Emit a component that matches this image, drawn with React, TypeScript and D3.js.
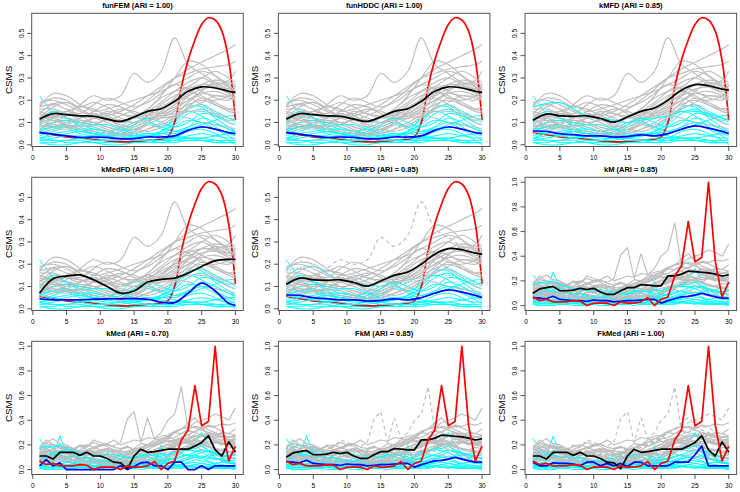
import React from 'react';
import * as d3 from 'd3';

// ---------- data ----------
const DAYS = [1,2,3,4,5,6,7,8,9,10,11,12,13,14,15,16,17,18,19,20,21,22,23,24,25,26,27,28,29,30];
const KNOTS = [1,3,5,7,9,11,13,15,17,19,21,23,25,27,29,30];
const X_TICKS = [0,5,10,15,20,25,30];
const Y_TICKS_SMOOTH = [0,0.1,0.2,0.3,0.4,0.5];
const Y_TICKS_RAW = [0,0.2,0.4,0.6,0.8,1.0];

// smoothed curves (values at KNOTS)
const SMOOTH_GRAY: number[][] = [
  [0.07,0.10,0.13,0.18,0.22,0.20,0.22,0.32,0.28,0.33,0.48,0.36,0.32,0.28,0.25,0.24],
  [0.15,0.13,0.12,0.11,0.10,0.11,0.13,0.16,0.20,0.25,0.30,0.34,0.37,0.40,0.43,0.45],
  [0.10,0.12,0.14,0.13,0.12,0.13,0.15,0.18,0.22,0.26,0.30,0.32,0.34,0.35,0.36,0.375],
  [0.06,0.08,0.10,0.12,0.14,0.12,0.10,0.12,0.16,0.22,0.30,0.375,0.36,0.31,0.26,0.23],
  [0.12,0.15,0.14,0.13,0.12,0.10,0.08,0.10,0.13,0.16,0.20,0.25,0.27,0.27,0.29,0.33],
  [0.18,0.21,0.20,0.17,0.19,0.17,0.14,0.13,0.15,0.19,0.24,0.28,0.30,0.27,0.24,0.24],
  [0.17,0.23,0.22,0.18,0.15,0.16,0.18,0.20,0.22,0.24,0.27,0.30,0.33,0.31,0.27,0.26],
  [0.14,0.18,0.16,0.14,0.18,0.21,0.19,0.17,0.19,0.23,0.27,0.25,0.21,0.20,0.22,0.27],
  [0.08,0.10,0.11,0.10,0.09,0.07,0.05,0.06,0.09,0.12,0.15,0.18,0.20,0.18,0.16,0.17],
  [0.06,0.12,0.15,0.13,0.10,0.08,0.06,0.05,0.07,0.10,0.13,0.12,0.10,0.09,0.08,0.07],
  [0.10,0.14,0.12,0.10,0.12,0.15,0.14,0.12,0.14,0.17,0.20,0.22,0.25,0.26,0.25,0.25],
  [0.13,0.11,0.09,0.08,0.09,0.11,0.09,0.08,0.11,0.14,0.18,0.23,0.27,0.29,0.28,0.27],
  [0.05,0.07,0.09,0.11,0.10,0.08,0.07,0.09,0.12,0.13,0.14,0.16,0.19,0.22,0.21,0.20],
  [0.16,0.16,0.14,0.12,0.15,0.18,0.17,0.14,0.12,0.13,0.16,0.22,0.27,0.26,0.23,0.21],
  [0.07,0.09,0.08,0.07,0.06,0.05,0.04,0.06,0.10,0.14,0.17,0.20,0.24,0.28,0.26,0.25],
  [0.12,0.17,0.19,0.16,0.13,0.11,0.10,0.13,0.15,0.14,0.16,0.20,0.23,0.22,0.22,0.23],
  [0.09,0.08,0.07,0.09,0.12,0.14,0.12,0.10,0.13,0.18,0.22,0.24,0.22,0.18,0.15,0.14],
  [0.11,0.13,0.15,0.17,0.16,0.13,0.11,0.12,0.16,0.21,0.24,0.26,0.30,0.33,0.30,0.28],
  [0.14,0.12,0.10,0.12,0.14,0.12,0.08,0.07,0.10,0.15,0.19,0.21,0.18,0.14,0.10,0.09],
  [0.19,0.20,0.18,0.15,0.13,0.14,0.16,0.15,0.13,0.15,0.21,0.26,0.24,0.21,0.20,0.22],
  [0.17,0.185,0.19,0.16,0.13,0.12,0.11,0.10,0.11,0.12,0.13,0.15,0.15,0.14,0.12,0.11],
  [0.09,0.11,0.09,0.07,0.06,0.05,0.04,0.05,0.07,0.09,0.12,0.17,0.21,0.19,0.16,0.15],
  [0.11,0.09,0.08,0.09,0.08,0.06,0.05,0.07,0.06,0.08,0.13,0.19,0.23,0.24,0.22,0.20],
];
const SMOOTH_CYAN: number[][] = [
  [0.22,0.14,0.08,0.05,0.04,0.03,0.03,0.04,0.05,0.04,0.03,0.03,0.02,0.01,0.01,0.01],
  [0.05,0.07,0.08,0.06,0.05,0.06,0.07,0.06,0.05,0.06,0.10,0.16,0.18,0.15,0.12,0.10],
  [0.10,0.14,0.12,0.08,0.06,0.05,0.05,0.07,0.09,0.08,0.11,0.17,0.17,0.12,0.08,0.06],
  [0.03,0.04,0.05,0.06,0.05,0.04,0.05,0.08,0.10,0.08,0.06,0.07,0.09,0.11,0.13,0.13],
  [0.06,0.08,0.09,0.07,0.05,0.05,0.08,0.12,0.11,0.07,0.05,0.08,0.12,0.10,0.07,0.06],
  [0.02,0.02,0.01,0.01,0.02,0.02,0.01,0.01,0.02,0.02,0.02,0.03,0.03,0.02,0.01,0.01],
  [0.01,0.01,0.02,0.02,0.01,0.01,0.01,0.02,0.02,0.01,0.02,0.02,0.02,0.02,0.02,0.02],
  [0.04,0.06,0.08,0.09,0.08,0.06,0.04,0.03,0.04,0.05,0.06,0.08,0.10,0.09,0.07,0.05],
  [0.08,0.10,0.11,0.09,0.07,0.06,0.05,0.04,0.04,0.06,0.09,0.14,0.16,0.13,0.10,0.09],
  [0.02,0.03,0.04,0.04,0.03,0.02,0.02,0.03,0.04,0.05,0.04,0.03,0.03,0.04,0.05,0.05],
  [0.03,0.05,0.06,0.07,0.07,0.06,0.05,0.04,0.04,0.05,0.08,0.11,0.10,0.07,0.04,0.02],
  [0.06,0.05,0.04,0.03,0.02,0.02,0.03,0.03,0.02,0.02,0.03,0.06,0.07,0.05,0.02,0.00],
  [0.01,0.00,0.00,0.01,0.01,0.00,0.00,0.01,0.01,0.01,0.01,0.02,0.02,0.01,0.01,0.01],
  [0.07,0.08,0.09,0.07,0.05,0.04,0.06,0.09,0.12,0.10,0.08,0.10,0.14,0.13,0.11,0.12],
  [0.09,0.15,0.12,0.10,0.09,0.09,0.07,0.05,0.04,0.06,0.12,0.15,0.13,0.08,0.05,0.04],
  [0.03,0.02,0.02,0.03,0.04,0.04,0.03,0.02,0.02,0.03,0.03,0.04,0.05,0.04,0.03,0.03],
];
const SMOOTH_RED = [0.055,0.05,0.045,0.04,0.035,0.032,0.03,0.028,0.025,0.022,0.018,0.015,0.013,0.013,0.015,0.017,0.02,0.022,0.025,0.036,0.10,0.26,0.38,0.47,0.54,0.57,0.56,0.51,0.38,0.11];

const FUNFEM_BLACK = [0.115,0.14,0.135,0.13,0.128,0.115,0.105,0.125,0.15,0.162,0.195,0.24,0.26,0.255,0.24,0.235];
const FUNFEM_BLUE = [0.055,0.048,0.04,0.033,0.035,0.033,0.027,0.028,0.035,0.035,0.04,0.065,0.08,0.07,0.055,0.05];
const KMFD_BLACK = [0.11,0.138,0.13,0.128,0.13,0.118,0.102,0.125,0.15,0.165,0.2,0.245,0.27,0.265,0.25,0.245];
const KMFD_BLUE = [0.062,0.06,0.05,0.045,0.04,0.04,0.035,0.037,0.045,0.04,0.05,0.07,0.085,0.075,0.06,0.05];
const KMEDFD_BLACK = [0.07,0.135,0.147,0.152,0.13,0.1,0.07,0.08,0.12,0.132,0.138,0.16,0.19,0.215,0.222,0.222];
const KMEDFD_BLUE = [0.045,0.04,0.04,0.04,0.043,0.045,0.045,0.046,0.043,0.03,0.028,0.07,0.115,0.08,0.025,0.015];

// raw curves (values at DAYS)
const RAW_GRAY: number[][] = [
  [0.07,0.10,0.09,0.12,0.14,0.16,0.20,0.18,0.24,0.22,0.20,0.19,0.22,0.41,0.47,0.22,0.42,0.25,0.30,0.40,0.45,0.67,0.32,0.30,0.34,0.28,0.26,0.30,0.22,0.25],
  [0.15,0.12,0.14,0.10,0.12,0.11,0.10,0.09,0.11,0.10,0.12,0.10,0.14,0.15,0.17,0.16,0.20,0.22,0.24,0.26,0.30,0.33,0.34,0.38,0.40,0.42,0.45,0.43,0.40,0.50],
  [0.10,0.13,0.12,0.15,0.14,0.12,0.13,0.11,0.14,0.13,0.15,0.14,0.16,0.18,0.17,0.21,0.20,0.24,0.25,0.27,0.30,0.29,0.33,0.35,0.34,0.36,0.35,0.37,0.36,0.38],
  [0.06,0.09,0.08,0.11,0.10,0.13,0.12,0.15,0.14,0.12,0.11,0.10,0.09,0.12,0.13,0.15,0.18,0.21,0.23,0.25,0.30,0.33,0.38,0.42,0.36,0.32,0.30,0.27,0.24,0.22],
  [0.12,0.16,0.14,0.15,0.13,0.12,0.14,0.11,0.13,0.10,0.09,0.08,0.07,0.09,0.11,0.10,0.14,0.13,0.17,0.18,0.22,0.24,0.26,0.28,0.27,0.26,0.28,0.30,0.29,0.33],
  [0.18,0.24,0.20,0.19,0.17,0.16,0.19,0.20,0.18,0.16,0.14,0.15,0.13,0.12,0.16,0.18,0.20,0.19,0.22,0.25,0.26,0.29,0.31,0.30,0.28,0.27,0.25,0.24,0.23,0.24],
  [0.17,0.22,0.25,0.21,0.20,0.17,0.15,0.16,0.17,0.19,0.21,0.24,0.20,0.22,0.24,0.23,0.26,0.25,0.27,0.28,0.31,0.33,0.35,0.34,0.32,0.30,0.28,0.27,0.26,0.27],
  [0.14,0.19,0.17,0.18,0.15,0.13,0.16,0.19,0.22,0.20,0.21,0.18,0.17,0.19,0.16,0.18,0.20,0.22,0.25,0.27,0.24,0.26,0.22,0.20,0.21,0.19,0.22,0.24,0.26,0.28],
  [0.08,0.11,0.10,0.12,0.09,0.10,0.08,0.09,0.07,0.06,0.05,0.06,0.04,0.07,0.06,0.08,0.10,0.09,0.13,0.12,0.16,0.15,0.18,0.20,0.22,0.19,0.17,0.16,0.18,0.17],
  [0.06,0.10,0.13,0.15,0.16,0.13,0.12,0.10,0.09,0.08,0.07,0.06,0.05,0.06,0.05,0.07,0.08,0.09,0.11,0.12,0.14,0.13,0.11,0.12,0.10,0.09,0.08,0.09,0.07,0.08],
  [0.10,0.15,0.13,0.12,0.10,0.11,0.09,0.12,0.14,0.16,0.17,0.15,0.13,0.12,0.14,0.15,0.13,0.16,0.18,0.20,0.21,0.23,0.22,0.25,0.27,0.26,0.25,0.27,0.24,0.25],
  [0.13,0.11,0.12,0.09,0.08,0.10,0.07,0.09,0.10,0.12,0.11,0.09,0.08,0.10,0.07,0.09,0.12,0.11,0.15,0.17,0.18,0.22,0.24,0.27,0.28,0.30,0.29,0.28,0.27,0.26],
  [0.05,0.07,0.08,0.10,0.09,0.11,0.12,0.10,0.09,0.08,0.07,0.08,0.06,0.09,0.10,0.12,0.11,0.13,0.12,0.14,0.15,0.14,0.17,0.19,0.21,0.23,0.22,0.21,0.20,0.19],
  [0.16,0.17,0.15,0.14,0.13,0.12,0.13,0.16,0.18,0.20,0.19,0.16,0.15,0.14,0.12,0.11,0.13,0.12,0.14,0.16,0.19,0.23,0.25,0.27,0.28,0.25,0.24,0.22,0.20,0.21],
  [0.07,0.09,0.10,0.08,0.07,0.06,0.08,0.05,0.06,0.04,0.05,0.03,0.05,0.06,0.08,0.10,0.12,0.14,0.15,0.17,0.18,0.21,0.22,0.25,0.27,0.29,0.27,0.26,0.24,0.25],
  [0.12,0.18,0.20,0.17,0.19,0.16,0.14,0.12,0.13,0.11,0.10,0.12,0.11,0.14,0.15,0.13,0.16,0.14,0.15,0.17,0.19,0.21,0.24,0.23,0.22,0.21,0.23,0.22,0.21,0.23],
  [0.09,0.07,0.08,0.06,0.09,0.10,0.12,0.13,0.15,0.14,0.16,0.13,0.12,0.10,0.12,0.13,0.16,0.19,0.21,0.23,0.22,0.25,0.23,0.21,0.20,0.18,0.16,0.15,0.14,0.13],
  [0.11,0.14,0.16,0.15,0.18,0.17,0.19,0.16,0.15,0.13,0.12,0.10,0.12,0.11,0.14,0.16,0.18,0.20,0.22,0.24,0.23,0.26,0.28,0.31,0.33,0.35,0.34,0.31,0.29,0.28],
  [0.14,0.12,0.11,0.09,0.10,0.12,0.14,0.13,0.15,0.13,0.11,0.08,0.07,0.06,0.08,0.07,0.10,0.13,0.15,0.18,0.20,0.22,0.21,0.19,0.16,0.14,0.12,0.10,0.09,0.10],
  [0.19,0.21,0.20,0.18,0.16,0.15,0.13,0.14,0.12,0.15,0.17,0.16,0.15,0.14,0.16,0.15,0.13,0.16,0.18,0.21,0.24,0.26,0.28,0.25,0.23,0.21,0.22,0.20,0.21,0.22],
  [0.17,0.19,0.18,0.20,0.17,0.15,0.14,0.13,0.12,0.11,0.13,0.12,0.11,0.10,0.09,0.11,0.12,0.11,0.13,0.12,0.14,0.15,0.16,0.15,0.14,0.15,0.13,0.12,0.11,0.12],
  [0.09,0.12,0.10,0.11,0.08,0.07,0.06,0.05,0.06,0.05,0.04,0.05,0.03,0.05,0.06,0.05,0.07,0.08,0.09,0.11,0.12,0.15,0.18,0.22,0.20,0.19,0.17,0.16,0.15,0.15],
  [0.11,0.10,0.08,0.09,0.10,0.08,0.09,0.07,0.08,0.06,0.05,0.06,0.04,0.05,0.07,0.06,0.08,0.07,0.06,0.09,0.13,0.17,0.20,0.24,0.22,0.25,0.23,0.21,0.22,0.20],
];
const RAW_CYAN: number[][] = [
  [0.25,0.18,0.12,0.09,0.06,0.05,0.04,0.05,0.03,0.04,0.03,0.02,0.03,0.04,0.05,0.04,0.03,0.05,0.04,0.03,0.04,0.02,0.03,0.02,0.01,0.02,0.01,0.01,0.02,0.01],
  [0.08,0.10,0.12,0.27,0.14,0.10,0.08,0.07,0.06,0.05,0.07,0.06,0.05,0.07,0.06,0.05,0.06,0.08,0.07,0.09,0.12,0.15,0.18,0.17,0.19,0.16,0.14,0.12,0.10,0.09],
  [0.10,0.14,0.16,0.13,0.15,0.10,0.09,0.07,0.06,0.05,0.06,0.05,0.04,0.06,0.08,0.07,0.10,0.09,0.08,0.07,0.10,0.13,0.19,0.17,0.20,0.14,0.10,0.07,0.06,0.05],
  [0.03,0.04,0.05,0.04,0.06,0.05,0.07,0.06,0.05,0.04,0.03,0.05,0.06,0.08,0.10,0.09,0.11,0.08,0.07,0.06,0.05,0.07,0.08,0.10,0.09,0.12,0.11,0.13,0.14,0.13],
  [0.06,0.08,0.10,0.11,0.08,0.06,0.05,0.04,0.06,0.05,0.07,0.09,0.11,0.13,0.14,0.12,0.10,0.08,0.06,0.05,0.06,0.08,0.10,0.12,0.14,0.11,0.09,0.07,0.06,0.06],
  [0.02,0.02,0.01,0.02,0.01,0.01,0.02,0.02,0.03,0.02,0.02,0.01,0.01,0.02,0.01,0.02,0.02,0.03,0.02,0.02,0.03,0.02,0.03,0.04,0.03,0.02,0.02,0.01,0.01,0.01],
  [0.01,0.01,0.02,0.01,0.02,0.02,0.02,0.01,0.01,0.01,0.02,0.01,0.01,0.01,0.02,0.02,0.02,0.01,0.02,0.01,0.02,0.02,0.03,0.02,0.02,0.03,0.02,0.02,0.02,0.02],
  [0.04,0.05,0.07,0.09,0.10,0.11,0.09,0.10,0.08,0.07,0.05,0.04,0.03,0.04,0.03,0.04,0.05,0.04,0.05,0.06,0.07,0.06,0.09,0.10,0.11,0.10,0.09,0.08,0.06,0.05],
  [0.08,0.11,0.13,0.15,0.14,0.12,0.10,0.09,0.08,0.07,0.09,0.07,0.06,0.05,0.04,0.05,0.04,0.05,0.07,0.10,0.12,0.15,0.17,0.15,0.16,0.14,0.12,0.11,0.10,0.09],
  [0.02,0.03,0.03,0.05,0.04,0.04,0.03,0.02,0.02,0.03,0.02,0.02,0.03,0.04,0.03,0.04,0.05,0.06,0.05,0.05,0.04,0.03,0.03,0.04,0.05,0.04,0.05,0.06,0.05,0.05],
  [0.03,0.05,0.06,0.07,0.06,0.08,0.09,0.07,0.08,0.06,0.07,0.06,0.05,0.04,0.05,0.04,0.04,0.05,0.06,0.08,0.09,0.11,0.12,0.10,0.09,0.07,0.05,0.04,0.03,0.02],
  [0.06,0.05,0.05,0.04,0.03,0.02,0.02,0.03,0.02,0.02,0.03,0.03,0.04,0.03,0.03,0.02,0.02,0.03,0.20,0.02,0.03,0.04,0.06,0.08,0.07,0.06,0.04,0.02,0.01,0.00],
  [0.01,0.00,0.00,0.00,0.01,0.01,0.00,0.00,0.00,0.01,0.00,0.00,0.01,0.01,0.01,0.00,0.01,0.01,0.01,0.01,0.01,0.01,0.02,0.02,0.02,0.01,0.01,0.01,0.01,0.01],
  [0.07,0.10,0.12,0.11,0.09,0.08,0.06,0.05,0.06,0.07,0.06,0.08,0.09,0.11,0.10,0.12,0.13,0.11,0.10,0.09,0.08,0.10,0.12,0.14,0.16,0.15,0.13,0.12,0.11,0.12],
  [0.09,0.15,0.13,0.12,0.10,0.11,0.09,0.10,0.08,0.06,0.05,0.06,0.05,0.04,0.05,0.06,0.08,0.07,0.09,0.11,0.14,0.16,0.15,0.22,0.30,0.20,0.13,0.09,0.06,0.04],
  [0.03,0.02,0.02,0.03,0.02,0.04,0.05,0.04,0.03,0.03,0.02,0.03,0.02,0.02,0.03,0.04,0.03,0.02,0.02,0.03,0.03,0.04,0.05,0.06,0.05,0.04,0.03,0.03,0.03,0.03],
];
const RAW_RED = [0.07,0.04,0.05,0.03,0.03,0.03,0.04,0.035,0.0,0.02,0.02,0.02,0.0,0.03,0.02,0.02,0.03,0.065,0.0,0.05,0.07,0.24,0.32,0.68,0.355,0.39,1.0,0.36,0.07,0.19];

const KM_BLACK = [0.10,0.135,0.145,0.155,0.12,0.12,0.125,0.14,0.13,0.14,0.11,0.09,0.09,0.12,0.145,0.145,0.17,0.165,0.16,0.16,0.24,0.24,0.255,0.28,0.275,0.27,0.265,0.255,0.24,0.25];
const KM_BLUE = [0.065,0.06,0.055,0.075,0.05,0.045,0.04,0.04,0.035,0.045,0.04,0.04,0.03,0.035,0.04,0.04,0.045,0.05,0.05,0.02,0.04,0.055,0.07,0.075,0.085,0.1,0.085,0.07,0.06,0.06];
const KMED_BLACK = [0.11,0.11,0.085,0.14,0.14,0.14,0.115,0.14,0.11,0.11,0.09,0.06,0.055,0.005,0.11,0.165,0.14,0.145,0.155,0.165,0.165,0.165,0.165,0.19,0.22,0.275,0.16,0.11,0.225,0.14];
const KMED_BLUE = [0.03,0.08,0.03,0.055,0.0,0.0,0.0,0.0,0.0,0.0,0.0,0.0,0.03,0.0,0.025,0.055,0.06,0.03,0.03,0.0,0.06,0.06,0.0,0.0,0.03,0.0,0.03,0.03,0.03,0.03];
const FKMED_BLUE = [0.06,0.03,0.03,0.055,0.05,0.05,0.045,0.03,0.06,0.06,0.03,0.05,0.03,0.05,0.025,0.06,0.06,0.03,0.03,0.03,0.03,0.06,0.06,0.06,0.12,0.19,0.03,0.03,0.03,0.03];

type PanelDef = {
  title: string; mode: 'smooth' | 'raw'; black: number[]; blue: number[];
  grayToCyan: number[]; dashGray: number[]; dotGrayCyan: number[];
};
const PANELS: PanelDef[] = [
  { title: 'funFEM (ARI = 1.00)', mode: 'smooth', black: FUNFEM_BLACK, blue: FUNFEM_BLUE, grayToCyan: [], dashGray: [], dotGrayCyan: [] },
  { title: 'funHDDC (ARI = 1.00)', mode: 'smooth', black: FUNFEM_BLACK, blue: FUNFEM_BLUE, grayToCyan: [], dashGray: [], dotGrayCyan: [] },
  { title: 'kMFD (ARI = 0.85)', mode: 'smooth', black: KMFD_BLACK, blue: KMFD_BLUE, grayToCyan: [20], dashGray: [], dotGrayCyan: [] },
  { title: 'kMedFD (ARI = 1.00)', mode: 'smooth', black: KMEDFD_BLACK, blue: KMEDFD_BLUE, grayToCyan: [], dashGray: [], dotGrayCyan: [] },
  { title: 'FkMFD (ARI = 0.85)', mode: 'smooth', black: KMFD_BLACK, blue: KMFD_BLUE, grayToCyan: [20], dashGray: [0], dotGrayCyan: [20] },
  { title: 'kM (ARI = 0.85)', mode: 'raw', black: KM_BLACK, blue: KM_BLUE, grayToCyan: [20], dashGray: [], dotGrayCyan: [] },
  { title: 'kMed (ARI = 0.70)', mode: 'raw', black: KMED_BLACK, blue: KMED_BLUE, grayToCyan: [20, 9], dashGray: [], dotGrayCyan: [] },
  { title: 'FkM (ARI = 0.85)', mode: 'raw', black: KM_BLACK, blue: KM_BLUE, grayToCyan: [20], dashGray: [0], dotGrayCyan: [20] },
  { title: 'FkMed (ARI = 1.00)', mode: 'raw', black: KMED_BLACK, blue: FKMED_BLUE, grayToCyan: [], dashGray: [0, 1, 3, 17], dotGrayCyan: [] },
];

// ---------- layout ----------
const W = 740, H = 492;
const CELL_W = W / 3, CELL_H = H / 3;
const ML = 31.7, MR = 3.4, MT = 13.3, MB = 17.5;
const FONT = "'Liberation Sans', Arial, Helvetica, sans-serif";
const GRAY = '#BEBEBE', CYAN = '#00FFFF';

function Panel({ p, idx }: { p: PanelDef; idx: number }) {
  const col = idx % 3, row = Math.floor(idx / 3);
  const x0 = col * CELL_W, y0 = row * CELL_H;
  const left = ML, right = CELL_W - MR, top = MT, bottom = CELL_H - MB;
  const x = d3.scaleLinear().domain([1 - 29 * 0.04, 30 + 29 * 0.04]).range([left, right]);
  const smooth = p.mode === 'smooth';
  const y = smooth
    ? d3.scaleLinear().domain([-0.0076, 0.59]).range([bottom, top])
    : d3.scaleLinear().domain([-0.04, 1.04]).range([bottom, top]);
  const yTicks = smooth ? Y_TICKS_SMOOTH : Y_TICKS_RAW;
  const xs = smooth ? KNOTS : DAYS;
  const line = d3.line<[number, number]>()
    .x(d => x(d[0])).y(d => y(d[1]))
    .curve(smooth ? d3.curveCatmullRom.alpha(0.5) : d3.curveLinear);
  const path = (vals: number[], xv: number[] = xs) => line(vals.map((v, i) => [xv[i], v]) as [number, number][]) || '';
  const grays = smooth ? SMOOTH_GRAY : RAW_GRAY;
  const cyans = smooth ? SMOOTH_CYAN : RAW_CYAN;
  const red = smooth ? SMOOTH_RED : RAW_RED;
  const clipId = `clip${idx}`;
  const thin = 1.15, thick = 1.7;

  const grayEl = (i: number) => {
    const toCyan = p.grayToCyan.includes(i);
    const dashed = p.dashGray.includes(i);
    const dotted = p.dotGrayCyan.includes(i);
    return (
      <path key={'g' + i} d={path(grays[i])} fill="none" stroke={toCyan ? CYAN : GRAY} strokeWidth={thin}
        strokeDasharray={dotted ? '1.5,2' : dashed ? '4,3' : undefined} />
    );
  };
  const cyanEl = (i: number) => (
    <path key={'c' + i} d={path(cyans[i])} fill="none" stroke={CYAN} strokeWidth={1.0} />
  );
  // curves drawn in interleaved data order
  const curveEls: React.ReactNode[] = [];
  const n = Math.max(grays.length, cyans.length);
  for (let i = 0; i < n; i++) {
    if (i < grays.length) curveEls.push(grayEl(i));
    if (i < cyans.length) curveEls.push(cyanEl(i));
  }
  const redEl = <path d={path(red, DAYS)} fill="none" stroke="#FF0000" strokeWidth={thick} />;
  const blueEl = <path d={path(p.blue)} fill="none" stroke="#0000FF" strokeWidth={thick} />;
  const blackEl = <path d={path(p.black)} fill="none" stroke="#000000" strokeWidth={thick} />;

  return (
    <g transform={`translate(${x0},${y0})`}>
      <defs>
        <clipPath id={clipId}><rect x={left} y={top} width={right - left} height={bottom - top} /></clipPath>
      </defs>
      <g clipPath={`url(#${clipId})`} strokeLinejoin="round" strokeLinecap="butt">
        {curveEls.slice(0, 14)}
        {smooth && redEl}
        {curveEls.slice(14)}
        {blueEl}
        {blackEl}
        {!smooth && redEl}
      </g>
      <rect x={left} y={top} width={right - left} height={bottom - top} fill="none" stroke="#555" strokeWidth={1} />
      {X_TICKS.map(t => (
        <g key={'xt' + t}>
          <line x1={x(t)} x2={x(t)} y1={bottom} y2={bottom + 4.5} stroke="#555" />
          <text x={x(t)} y={bottom + 13} fontSize={6.6} fontFamily={FONT} textAnchor="middle" fill="#000">{t}</text>
        </g>
      ))}
      {yTicks.map(t => (
        <g key={'yt' + t}>
          <line x1={left - 4.5} x2={left} y1={y(t)} y2={y(t)} stroke="#555" />
          <text transform={`translate(${left - 8},${y(t)}) rotate(-90)`} fontSize={6.6} fontFamily={FONT} textAnchor="middle" fill="#000">{t.toFixed(1)}</text>
        </g>
      ))}
      <text x={(left + right) / 2} y={8} fontSize={7.5} fontWeight="bold" fontFamily={FONT} textAnchor="middle" fill="#000">{p.title}</text>
      <text transform={`translate(${11.5},${(top + bottom) / 2}) rotate(-90)`} fontSize={9.8} fontFamily={FONT} textAnchor="middle" fill="#000">CSMS</text>
    </g>
  );
}

export default function App() {
  return (
    <svg width={W} height={H} style={{ position: 'absolute', left: 0, top: 0, background: '#fff' }}>
      <rect width={W} height={H} fill="#fff" />
      {PANELS.map((p, i) => <Panel key={i} p={p} idx={i} />)}
    </svg>
  );
}
